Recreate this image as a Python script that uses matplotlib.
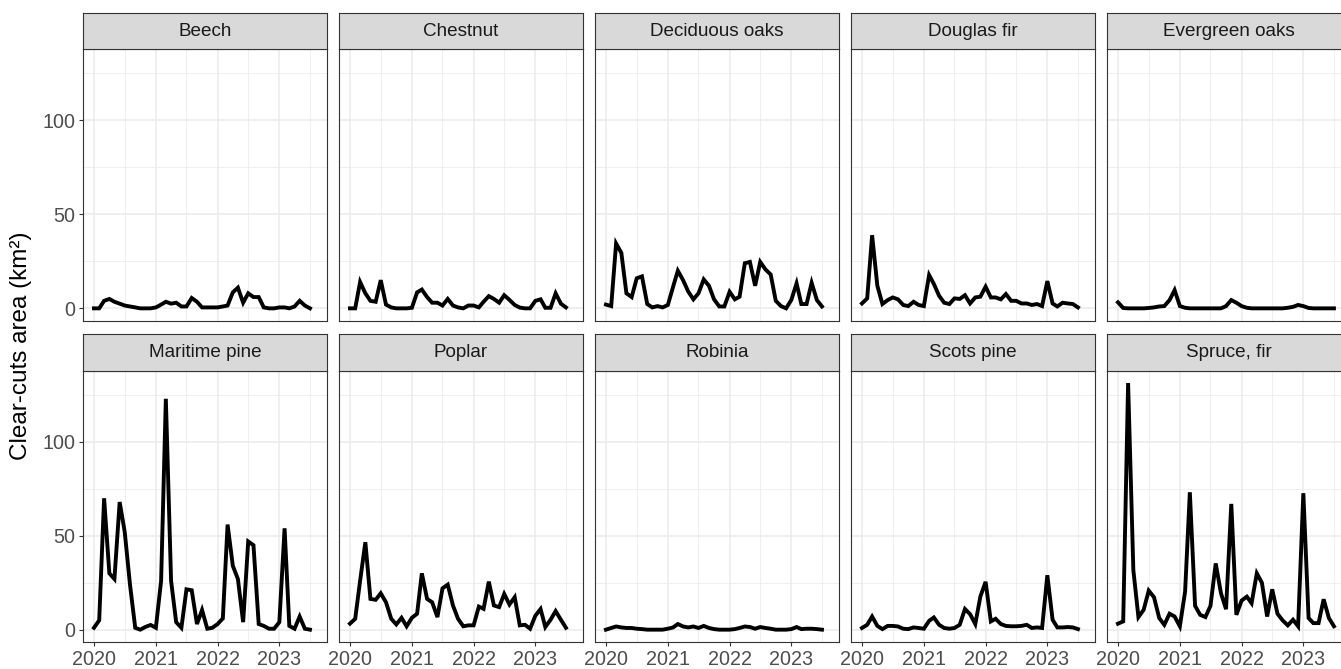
"""
Monthly clear-cut area per species, faceted 2 x 5 (ggplot theme_bw look).
"""

import pandas as pd
import matplotlib
matplotlib.use('Agg')
import matplotlib.pyplot as plt
import matplotlib.dates as mdates

plt.rcParams['font.family'] = ['Liberation Sans', 'DejaVu Sans']

months = pd.date_range('2020-01-01', periods=43, freq='MS')

species = ['Beech', 'Chestnut', 'Deciduous oaks', 'Douglas fir', 'Evergreen oaks',
           'Maritime pine', 'Poplar', 'Robinia', 'Scots pine', 'Spruce, fir']

beech = [0, 0, 4, 5, 3.5, 2.5, 1.5, 1, 0.5, 0, 0, 0,
         0.5, 2, 3.5, 2.5, 3, 1, 1, 5.5, 3.5, 0.5, 0.5, 0.5,
         0.5, 1, 1.5, 8.5, 11, 3, 8, 6, 6, 0.5, 0, 0,
         0.5, 0.5, 0, 1, 4, 1.5, 0]
chestnut = [0, 0, 14, 8, 4, 3.5, 15, 2, 0.5, 0, 0, 0,
            0.3, 8.5, 10, 6, 3, 3, 1.5, 5, 1.5, 0.5, 0, 1.5,
            1.5, 0.5, 3.5, 6.5, 5, 3, 7, 4.5, 1.8, 0.4, 0, 0,
            4, 4.8, 0.3, 0.3, 8, 2.5, 0.5]
deciduous_oaks = [2, 1.2, 34.5, 29.5, 8, 6, 16, 17, 2.3, 0.5, 1.2, 0.5,
                  1.8, 11.5, 20, 15, 9, 4.8, 8, 15.4, 12, 4.8, 1, 1,
                  8.8, 4.8, 6.2, 24, 24.7, 12, 24.7, 20.7, 18, 4, 1.2, 0,
                  4.5, 13.3, 2.3, 2.3, 13.6, 4.4, 1]
douglas_fir = [2.6, 5.3, 38.9, 12, 2.3, 4.4, 5.8, 4.8, 1.8, 1.2, 3.5, 1.8,
               1.2, 17.7, 13, 6.7, 3, 2.3, 5.3, 5, 7, 2.6, 5.8, 6.2,
               11.5, 5.8, 5.8, 4.8, 7.6, 4, 4, 2.6, 2.6, 1.8, 2.3, 1.2,
               14.5, 2.6, 1, 3, 2.6, 2.3, 0.5]
evergreen_oaks = [3.2, 0.2, 0, 0, 0, 0, 0.2, 0.5, 1, 1.2, 4.4, 9.7,
                  1.2, 0.3, 0, 0, 0, 0, 0, 0, 0, 1.2, 4.4, 3,
                  1.2, 0.3, 0, 0, 0, 0, 0, 0, 0, 0.3, 0.8, 1.8,
                  1.2, 0.2, 0, 0, 0, 0, 0]
maritime_pine = [1, 5, 70, 30, 27, 68, 52, 24, 1, 0, 1.5, 2.5,
                 1, 26, 123, 26, 4, 1, 21.5, 21, 3, 10.5, 0.5, 1,
                 3, 6, 56, 34, 27, 4, 47, 45, 3, 2, 0.5, 0.5,
                 4, 54, 2, 0.5, 7, 0.5, 0]
poplar = [3.2, 5.8, 26, 46.6, 16.4, 15.9, 19.4, 14.6, 5.8, 2.8, 6.3, 1.8,
          6.3, 8.5, 30, 16.4, 14.6, 6.7, 22, 24, 12.9, 5.8, 1.8, 2.3,
          2.3, 12.3, 11.1, 25.6, 12.9, 12, 19, 13.4, 17.3, 2.3, 2.6, 0.5,
          7.4, 11, 1.4, 5.3, 9.9, 5.3, 1]
robinia = [0, 0.9, 1.7, 1.2, 0.9, 0.9, 0.5, 0.3, 0, 0, 0, 0,
           0.5, 1.2, 3, 1.7, 1.2, 1.7, 0.9, 2, 0.9, 0.3, 0, 0,
           0, 0.3, 0.9, 1.7, 1.4, 0.5, 1.4, 0.9, 0.5, 0, 0, 0,
           0.3, 1.4, 0.3, 0.5, 0.5, 0.3, 0]
scots_pine = [0.9, 2.6, 7, 2, 0.3, 2, 2, 1.7, 0.5, 0.3, 1.2, 0.9,
              0.5, 4.7, 6.5, 2.6, 0.9, 0.5, 0.9, 2.6, 11, 8.3, 3, 17.6,
              25.5, 4.4, 5.8, 3, 2, 1.8, 1.8, 2, 2.6, 0.9, 1.2, 0.9,
              29, 5.3, 1.2, 1.2, 1.4, 1.2, 0.3]
spruce_fir = [3.2, 4.4, 131.4, 31.7, 6.7, 10.6, 20.8, 17.3, 6.2, 2.6, 8.5, 7,
              1.8, 20.3, 73.2, 12.7, 7.9, 6.7, 12.7, 35.3, 19.4, 10.9, 67, 7.9,
              15.5, 17.6, 14.1, 30, 25, 7, 21.5, 8.5, 4.9, 2.3, 5.3, 1.8,
              72.7, 6.2, 3.5, 3.5, 16.2, 6.2, 1.8]

series = [beech, chestnut, deciduous_oaks, douglas_fir, evergreen_oaks,
          maritime_pine, poplar, robinia, scots_pine, spruce_fir]

y_ticks = [0, 50, 100]
y_minor = [25, 75, 125]
year_ticks = pd.to_datetime(['2020-01-01', '2021-01-01', '2022-01-01', '2023-01-01'])
mid_year = pd.to_datetime(['2020-07-01', '2021-07-01', '2022-07-01', '2023-07-01'])

W, H = 1341, 669
DPI = 100

# layout in pixels
col_left = [83.3 + 256 * i for i in range(5)]
panel_w = 243.4
row_strip_top = [13.3, 334.0]
row_panel_top = [49.0, 370.7]
row_panel_bot = [320.7, 642.0]

grey20 = '#333333'
grid_col = '#EBEBEB'

ymax = max(max(s) for s in series)
ylim = (-0.05 * ymax, 1.05 * ymax)
xlim = (mdates.date2num(pd.Timestamp('2020-01-01')) - 63,
        mdates.date2num(pd.Timestamp('2020-01-01')) + 1376)


def px_rect(x, top, w, bot):
    return [x / W, 1 - bot / H, w / W, (bot - top) / H]


fig = plt.figure(figsize=(W / DPI, H / DPI), dpi=DPI)

for i, (name, vals) in enumerate(zip(species, series)):
    r, c = divmod(i, 5)
    ax = fig.add_axes(px_rect(col_left[c], row_panel_top[r], panel_w, row_panel_bot[r]))
    ax.plot(months, vals, color='black', linewidth=2.8, solid_joinstyle='miter',
            zorder=3)
    ax.set_xlim(xlim)
    ax.set_ylim(ylim)

    ax.set_yticks(y_ticks)
    ax.set_yticks(y_minor, minor=True)
    ax.set_xticks(year_ticks)
    ax.set_xticks(mid_year, minor=True)
    ax.xaxis.set_major_formatter(mdates.DateFormatter('%Y'))

    ax.grid(which='major', color=grid_col, linewidth=1.1)
    ax.grid(which='minor', color=grid_col, linewidth=0.55)
    ax.set_axisbelow(True)
    for sp in ax.spines.values():
        sp.set_color(grey20)
        sp.set_linewidth(0.8)

    ax.tick_params(which='major', length=3.2, width=0.8, color=grey20,
                   labelcolor='#4D4D4D', labelsize=14.2, pad=2.5)
    ax.tick_params(which='minor', length=0)
    if c != 0:
        ax.tick_params(which='major', left=False, labelleft=False)
    if r == 0:
        ax.tick_params(which='major', bottom=False, labelbottom=False)

    # facet strip
    sax = fig.add_axes(px_rect(col_left[c], row_strip_top[r], panel_w, row_panel_top[r]))
    sax.set_facecolor('#D9D9D9')
    sax.set_xticks([])
    sax.set_yticks([])
    for sp in sax.spines.values():
        sp.set_color(grey20)
        sp.set_linewidth(0.8)
    sax.text(0.5, 0.5, name, ha='center', va='center', fontsize=13.6,
             color='#1A1A1A', transform=sax.transAxes)

fig.text(21 / W, 1 - ((row_panel_top[0] + row_panel_bot[1]) / 2) / H,
         'Clear-cuts area (km²)', rotation=90, ha='center', va='center',
         fontsize=17.5, color='black')

fig.savefig('out.png', dpi=DPI)
plt.close(fig)
